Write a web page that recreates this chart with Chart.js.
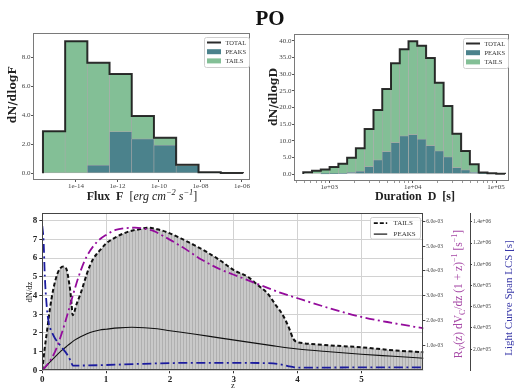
<!DOCTYPE html>
<html>
<head>
<meta charset="utf-8">
<script src="https://cdn.jsdelivr.net/npm/chart.js@4.4.0/dist/chart.umd.min.js"></script>
<style>
  html, body { margin: 0; padding: 0; background: #fff; }
  #stage { position: relative; width: 519px; height: 390px; overflow: hidden; }
  #stage canvas { position: absolute; left: 0; top: 0; }
  .lbl { position: absolute; white-space: nowrap; transform: translate(-50%, -50%); color: #222; line-height: 1; }
  .rot { transform: translate(-50%, -50%) rotate(-90deg); }
  .lbl sup, .lbl sub { font-size: 70%; line-height: 0; }
</style>
</head>
<body>
<div id="stage">
  <canvas id="fluxChart" width="519" height="390"></canvas>
  <canvas id="durChart" width="519" height="390"></canvas>
  <canvas id="zChart" width="519" height="390"></canvas>

  <div class="lbl" style="left:270px;top:18px;font:bold 21px 'Liberation Serif',serif;color:#111;">PO</div>

  <div class="lbl rot" style="left:12px;top:95px;font:bold 11px 'DejaVu Serif',serif;">dN/dlogF</div>
  <div class="lbl" style="left:142px;top:196px;font:12px 'Liberation Serif',serif;"><b>Flux&nbsp;&nbsp;F</b>&nbsp;&nbsp;[<i>erg cm<sup>−2</sup> s<sup>−1</sup></i>]</div>

  <div class="lbl rot" style="left:272.5px;top:96.5px;font:bold 11px 'DejaVu Serif',serif;">dN/dlogD</div>
  <div class="lbl" style="left:415px;top:196px;font:bold 12px 'Liberation Serif',serif;">Duration&nbsp;&nbsp;D&nbsp;&nbsp;[s]</div>

  <div class="lbl rot" style="left:28.5px;top:292px;font:8.5px 'Liberation Serif',serif;">dN/dz</div>
  <div class="lbl" style="left:233px;top:385px;font:8.5px 'Liberation Serif',serif;">z</div>
  <div class="lbl rot" style="left:458px;top:294px;font:11.5px 'Liberation Serif',serif;color:#a648a6;">R<sub>V</sub>(z) dV<sub>C</sub>/dz (1 + z)<sup>−1</sup> [s<sup>−1</sup>]</div>
  <div class="lbl rot" style="left:508px;top:298px;font:11px 'Liberation Serif',serif;color:#3838a8;">Light Curve Span LCS [s]</div>
</div>

<script>
// flux histogram (log10 of bin edges)
const FLUX_EDGES = [-15.59, -14.52, -13.45, -12.38, -11.31, -10.24, -9.17, -8.09, -7.02, -5.95];
const FLUX_TOTAL = [2.9, 9.12, 7.62, 6.85, 3.95, 2.45, 0.6, 0.08, 0.03];
const FLUX_PEAKS = [0, 0, 0.56, 2.87, 2.37, 1.93, 0.52, 0.05, 0];
const FLUX_X_TICKS = [-14, -12, -10, -8, -6];
const FLUX_Y_TICKS = [0, 2, 4, 6, 8];

// duration histogram (log10 of bin edges)
const DUR_EDGES = [2.688, 2.793, 2.898, 3.004, 3.109, 3.214, 3.319, 3.424, 3.530, 3.635, 3.740, 3.845,
  3.950, 4.055, 4.161, 4.266, 4.371, 4.476, 4.581, 4.686, 4.792, 4.897, 5.002, 5.107];
const DUR_TOTAL = [0.5, 0.95, 1.35, 2.1, 3.1, 4.9, 7.7, 13.5, 19.2, 25.5, 33.2, 37.4,
  39.8, 38.5, 34.8, 27.4, 20.4, 12.1, 6.9, 2.9, 0.45, 0.2, 0.1];
const DUR_PEAKS = [0, 0, 0.05, 0.1, 0.2, 0.5, 0.8, 2.2, 4.2, 6.7, 9.4, 11.4,
  11.8, 10.4, 8.5, 6.9, 5.1, 1.9, 1.2, 0.55, 0.1, 0, 0];
const DUR_X_TICKS = [3, 4, 5];
const DUR_Y_TICKS = [0, 5, 10, 15, 20, 25, 30, 35, 40];

// redshift distributions
const Z_TAILS = [0, 0.035, 0.07, 0.12, 0.17, 0.23, 0.28, 0.33, 0.38, 0.41, 0.44, 0.46, 0.475, 0.54, 0.6,
  0.65, 0.7, 0.75, 0.8, 0.86, 0.94, 1.0, 1.12, 1.28, 1.38, 1.54, 1.64, 1.8, 1.96, 2.17, 2.38, 2.59,
  2.8, 3.0, 3.22, 3.38, 3.53, 3.66, 3.77, 3.87, 3.93, 3.98, 4.0, 4.4, 5.0, 5.5, 6.0];
const N_TAILS = [0, 1.1, 2.0, 3.3, 4.3, 5.1, 5.45, 5.55, 5.4, 4.9, 4.2, 3.5, 2.95, 3.57, 4.1,
  4.64, 5.18, 5.63, 5.98, 6.25, 6.56, 6.79, 7.06, 7.33, 7.45, 7.56, 7.63, 7.55, 7.38, 7.06, 6.7, 6.3,
  5.85, 5.36, 5.0, 4.55, 4.11, 3.48, 2.95, 2.23, 1.7, 1.52, 1.5, 1.36, 1.23, 1.07, 0.96];
const Z_PEAKS = [0, 0.1, 0.2, 0.3, 0.4, 0.5, 0.6, 0.7, 0.8, 0.9, 1.0, 1.2, 1.4, 1.6, 1.8, 2.0,
  2.4, 2.8, 3.2, 3.6, 4.0, 4.5, 5.0, 5.5, 6.0];
const N_PEAKS = [0, 0.37, 0.72, 1.05, 1.33, 1.6, 1.8, 1.96, 2.08, 2.16, 2.2, 2.27, 2.3, 2.28, 2.22, 2.12,
  1.93, 1.72, 1.52, 1.32, 1.14, 0.99, 0.86, 0.75, 0.64];
const Z_RATE = [0, 0.1, 0.2, 0.3, 0.4, 0.5, 0.6, 0.7, 0.85, 1.0, 1.15, 1.3, 1.45, 1.6, 1.75, 1.9,
  2.2, 2.5, 2.8, 3.1, 3.4, 3.7, 4.0, 4.5, 5.0, 5.5, 6.0];
const RATE = [0, 0.3e-3, 0.75e-3, 1.45e-3, 2.3e-3, 3.2e-3, 4.0e-3, 4.6e-3, 5.15e-3, 5.45e-3, 5.65e-3, 5.72e-3,
  5.74e-3, 5.7e-3, 5.6e-3, 5.4e-3, 4.95e-3, 4.45e-3, 4.05e-3, 3.75e-3, 3.45e-3, 3.15e-3, 2.9e-3,
  2.5e-3, 2.15e-3, 1.9e-3, 1.68e-3];
const Z_LCS = [0, 0.02, 0.04, 0.07, 0.1, 0.15, 0.2, 0.3, 0.4, 0.45, 0.48, 0.6, 1.0, 1.5, 2.0, 2.5,
  3.0, 3.5, 3.7, 3.85, 3.95, 4.0, 4.5, 5.0, 5.5, 6.0];
const LCS = [1.36e6, 1.22e6, 0.88e6, 0.6e6, 0.45e6, 0.36e6, 0.3e6, 0.22e6, 0.14e6, 0.08e6, 0.045e6,
  0.045e6, 0.05e6, 0.06e6, 0.068e6, 0.07e6, 0.07e6, 0.068e6, 0.06e6, 0.04e6, 0.028e6, 0.025e6,
  0.026e6, 0.027e6, 0.027e6, 0.027e6];
const Z_TICKS = [0, 1, 2, 3, 4, 5];
const DNDZ_TICKS = [0, 1, 2, 3, 4, 5, 6, 7, 8];
const RATE_TICKS = [1e-3, 2e-3, 3e-3, 4e-3, 5e-3, 6e-3];
const LCS_TICKS = [2e5, 4e5, 6e5, 8e5, 1e6, 1.2e6, 1.4e6];

const TEAL = '#4b828c';
const GREEN = '#83bf96';
const EDGE = '#a8a8a8';
const PURPLE = '#940c9c';
const BLUE = '#1c1c9e';
const SERIF = "'Liberation Serif', serif";

function centers(edges) {
  return edges.slice(0, -1).map((e, i) => (e + edges[i + 1]) / 2);
}

function stepOutline(edges, vals) {
  const pts = [{ x: edges[0], y: 0 }];
  vals.forEach((v, i) => pts.push({ x: edges[i], y: v }));
  pts.push({ x: edges[edges.length - 1], y: vals[vals.length - 1] });
  pts.push({ x: edges[edges.length - 1], y: 0 });
  return pts;
}

function pairs(xs, ys) {
  return xs.map((x, i) => ({ x, y: ys[i] }));
}

function expLabel(p) {
  return '1e' + (p < 0 ? '-' : '+') + String(Math.abs(p)).padStart(2, '0');
}

function sci(v) {
  const [m, e] = v.toExponential(1).split('e');
  const n = parseInt(e, 10);
  return m + 'e' + (n < 0 ? '-' : '+') + String(Math.abs(n)).padStart(2, '0');
}

function logMinorTicks(min, max, labelled) {
  const out = [];
  for (let p = Math.floor(min); p <= Math.ceil(max); p++) {
    for (let k = 1; k < 10; k++) {
      const v = p + Math.log10(k);
      if (v >= min && v <= max) out.push({ value: v, isMajor: k === 1 && labelled.includes(p) });
    }
  }
  return out;
}

function frame(color) {
  return {
    id: 'frame',
    afterDatasetsDraw(chart) {
      const { left, top, right, bottom } = chart.chartArea;
      const ctx = chart.ctx;
      const l = Math.round(left) + 0.5, t = Math.round(top) + 0.5;
      const r = Math.round(right) - 0.5, b = Math.round(bottom) - 0.5;
      ctx.save();
      ctx.strokeStyle = color;
      ctx.lineWidth = 1;
      ctx.strokeRect(l, t, r - l, b - t);
      ctx.restore();
    }
  };
}

function boxLegend(spec) {
  return {
    id: 'boxLegend',
    afterDraw(chart) {
      const ca = chart.chartArea;
      const ctx = chart.ctx;
      const x0 = Math.round(ca.right - spec.right - spec.width) + 0.5;
      const y0 = Math.round(ca.top + spec.top) + 0.5;
      ctx.save();
      ctx.beginPath();
      ctx.roundRect(x0, y0, spec.width, spec.height, 2);
      ctx.fillStyle = 'rgba(255,255,255,0.85)';
      ctx.fill();
      ctx.strokeStyle = '#cfcfcf';
      ctx.lineWidth = 1;
      ctx.stroke();
      ctx.font = spec.font;
      ctx.textBaseline = 'middle';
      spec.items.forEach((it, i) => {
        const cy = y0 + spec.firstRow + i * spec.rowGap;
        const hx = x0 + spec.handleX;
        if (it.kind === 'patch') {
          ctx.fillStyle = it.color;
          ctx.fillRect(hx, cy - spec.patchH / 2, spec.handleW, spec.patchH);
        } else {
          ctx.beginPath();
          ctx.setLineDash(it.dash || []);
          ctx.strokeStyle = it.color;
          ctx.lineWidth = it.width;
          ctx.moveTo(hx, cy);
          ctx.lineTo(hx + spec.handleW, cy);
          ctx.stroke();
          ctx.setLineDash([]);
        }
        ctx.fillStyle = '#333';
        ctx.fillText(it.label, x0 + spec.textX, cy + 0.5);
      });
      ctx.restore();
    }
  };
}

const HIST_LEGEND = {
  right: 1, top: 4, width: 45, height: 30,
  firstRow: 5, rowGap: 9.2, handleX: 2.5, handleW: 14, patchH: 5, textX: 21,
  font: "6.5px 'Liberation Serif'",
  items: [
    { label: 'TOTAL', kind: 'line', color: 'rgba(20,20,20,0.9)', width: 2 },
    { label: 'PEAKS', kind: 'patch', color: TEAL },
    { label: 'TAILS', kind: 'patch', color: GREEN }
  ]
};

function histChart(id, o) {
  const mids = centers(o.edges);
  const tails = o.total.map((t, i) => Math.max(t - o.peaks[i], 0));
  const barStyle = { borderColor: EDGE, borderWidth: 0.6, borderSkipped: false, barThickness: 'flex',
    barPercentage: 1, categoryPercentage: 1, stack: 'bins', order: 1 };
  return new Chart(document.getElementById(id), {
    data: {
      datasets: [
        { type: 'line', label: 'TOTAL', data: stepOutline(o.edges, o.total), stepped: 'before',
          borderColor: 'rgba(20,20,20,0.88)', borderWidth: 2, pointRadius: 0, fill: false, stack: 'outline', order: 0 },
        { type: 'bar', label: 'PEAKS', data: pairs(mids, o.peaks), backgroundColor: TEAL, ...barStyle },
        { type: 'bar', label: 'TAILS', data: pairs(mids, tails), backgroundColor: GREEN, ...barStyle }
      ]
    },
    options: {
      responsive: false,
      animation: false,
      devicePixelRatio: 1,
      layout: { padding: o.padding },
      plugins: { legend: { display: false }, tooltip: { enabled: false } },
      scales: {
        x: {
          type: 'linear', min: o.xMin, max: o.xMax, stacked: true, offset: false,
          border: { display: false },
          grid: { offset: false, drawOnChartArea: false, tickLength: 2, tickColor: '#555',
            tickWidth: (c) => (c.tick && c.tick.isMajor === false ? 0.6 : 1) },
          ticks: { autoSkip: false, maxRotation: 0, padding: 0, color: '#444',
            font: { family: SERIF, size: 7 }, callback: o.xLabel },
          afterBuildTicks: (s) => { s.ticks = o.xTicks(); },
          afterFit: (s) => { s.height = 12; }
        },
        y: {
          type: 'linear', min: o.yMin, max: o.yMax, stacked: true,
          border: { display: false },
          grid: { drawOnChartArea: false, tickLength: 2, tickColor: '#555' },
          ticks: { padding: 0.5, color: '#444', font: { family: SERIF, size: 7 },
            callback: (v) => v.toFixed(1) },
          afterBuildTicks: (s) => { s.ticks = o.yTicks.map((v) => ({ value: v })); },
          afterFit: (s) => { s.width = o.yWidth; }
        }
      }
    },
    plugins: [frame('#7a7a7a'), boxLegend(HIST_LEGEND)]
  });
}

histChart('fluxChart', {
  edges: FLUX_EDGES, total: FLUX_TOTAL, peaks: FLUX_PEAKS,
  xMin: -16.07, xMax: -5.61, yMin: -0.46, yMax: 9.66, yWidth: 12,
  padding: { left: 21, top: 33.3, right: 269, bottom: 198 },
  xTicks: () => FLUX_X_TICKS.map((v) => ({ value: v, isMajor: true })),
  xLabel: (v) => expLabel(v),
  yTicks: FLUX_Y_TICKS
});

histChart('durChart', {
  edges: DUR_EDGES, total: DUR_TOTAL, peaks: DUR_PEAKS,
  xMin: 2.577, xMax: 5.155, yMin: -2.1, yMax: 41.92, yWidth: 20,
  padding: { left: 274, top: 34.3, right: 10, bottom: 197 },
  xTicks: () => logMinorTicks(2.577, 5.155, DUR_X_TICKS),
  xLabel: function (v, i, ticks) { return ticks[i].isMajor ? expLabel(Math.round(v)) : ''; },
  yTicks: DUR_Y_TICKS
});

// redshift panel
const zCanvas = document.getElementById('zChart');
function stripes(ctx) {
  const c = document.createElement('canvas');
  c.width = 3; c.height = 1;
  const g = c.getContext('2d');
  g.fillStyle = '#c9c9c9';
  g.fillRect(0, 0, 3, 1);
  g.fillStyle = '#b0b0b0';
  g.fillRect(0, 0, 1, 1);
  return ctx.createPattern(c, 'repeat');
}

const sideAxis = (ticks, max, width, withBorder) => ({
  type: 'linear', position: 'right', min: 0, max,
  border: { display: withBorder, color: '#444', width: 1 },
  grid: { drawOnChartArea: false, tickLength: 2, tickColor: '#444' },
  ticks: { padding: 1, color: '#444', font: { family: SERIF, size: 5.5 }, callback: (v) => sci(v) },
  afterBuildTicks: (s) => { s.ticks = ticks.map((v) => ({ value: v })); },
  afterFit: (s) => { s.width = width; }
});

new Chart(zCanvas, {
  type: 'line',
  data: {
    datasets: [
      { label: 'TAILS', data: pairs(Z_TAILS, N_TAILS), yAxisID: 'y', borderColor: '#111', borderWidth: 2,
        borderDash: [4, 2.5], fill: 'origin', backgroundColor: stripes(zCanvas.getContext('2d')), order: 4 },
      { label: 'PEAKS', data: pairs(Z_PEAKS, N_PEAKS), yAxisID: 'y', borderColor: '#111', borderWidth: 1.1,
        fill: false, order: 3 },
      { label: 'rate', data: pairs(Z_RATE, RATE), yAxisID: 'y1', borderColor: PURPLE, borderWidth: 1.8,
        borderDash: [9, 3.5, 2, 3.5], fill: false, order: 2 },
      { label: 'LCS', data: pairs(Z_LCS, LCS), yAxisID: 'y2', borderColor: BLUE, borderWidth: 1.8,
        borderDash: [9, 3.5, 2, 3.5], fill: false, order: 1 }
    ]
  },
  options: {
    responsive: false,
    animation: false,
    devicePixelRatio: 1,
    layout: { padding: { left: 32.3, top: 213.3, right: 9, bottom: 7.7 } },
    elements: { point: { radius: 0 }, line: { cubicInterpolationMode: 'monotone' } },
    plugins: { legend: { display: false }, tooltip: { enabled: false } },
    scales: {
      x: {
        type: 'linear', min: 0, max: 5.97,
        border: { display: false },
        grid: { color: '#d2d2d2', tickLength: 3, tickColor: '#333' },
        ticks: { padding: 1, color: '#222', font: { family: SERIF, size: 9, weight: 'bold' } },
        afterBuildTicks: (s) => { s.ticks = Z_TICKS.map((v) => ({ value: v })); },
        afterFit: (s) => { s.height = 12; }
      },
      y: {
        type: 'linear', position: 'left', min: 0, max: 8.4,
        border: { display: false },
        grid: { color: '#d2d2d2', tickLength: 3, tickColor: '#333' },
        ticks: { padding: 2, color: '#222', font: { family: SERIF, size: 9, weight: 'bold' } },
        afterBuildTicks: (s) => { s.ticks = DNDZ_TICKS.map((v) => ({ value: v })); },
        afterFit: (s) => { s.width = 10; }
      },
      y1: sideAxis(RATE_TICKS, 6.32e-3, 46.7, false),
      y2: sideAxis(LCS_TICKS, 1.48e6, 40, true)
    }
  },
  plugins: [frame('#444'), boxLegend({
    right: 3.3, top: 3.4, width: 50, height: 21.6,
    firstRow: 5.6, rowGap: 11, handleX: 3.3, handleW: 13.4, patchH: 5, textX: 23,
    font: "7px 'Liberation Serif'",
    items: [
      { label: 'TAILS', kind: 'line', color: '#111', width: 1.8, dash: [4, 2] },
      { label: 'PEAKS', kind: 'line', color: '#111', width: 1.2 }
    ]
  })]
});
</script>
</body>
</html>
